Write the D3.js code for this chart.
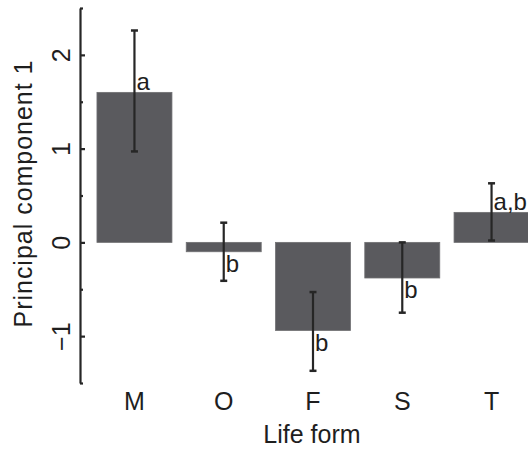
<!DOCTYPE html>
<html>
<head>
<meta charset="utf-8">
<script src="https://cdn.jsdelivr.net/npm/d3@7"></script>
<style>
  html, body { margin: 0; padding: 0; background: #fff; }
  svg { display: block; font-family: "Liberation Sans", Arial, Helvetica, sans-serif; }
</style>
</head>
<body>
<svg id="chart" width="528" height="450"></svg>
<script>
const categories = ["M", "O", "F", "S", "T"];
const means = [1.60, -0.10, -0.94, -0.38, 0.32];
const upper = [2.26, 0.21, -0.53, 0.00, 0.63];
const lower = [0.97, -0.41, -1.37, -0.75, 0.02];
const letters = ["a", "b", "b", "b", "a,b"];
const majorTicks = [-1, 0, 1, 2];
const minorTicks = [-1.5, -0.5, 0.5, 1.5, 2.5];
const xTitle = "Life form";
const yTitle = "Principal component 1";

const data = categories.map((c, i) => ({ c, m: means[i], hi: upper[i], lo: lower[i], lab: letters[i] }));

const svg = d3.select("#chart");
const axisX = 80;
const y = d3.scaleLinear().domain([-1.5, 2.5]).range([383, 8]);
const x = d3.scaleBand().domain(categories).range([axisX, 546]).paddingInner(0.16).paddingOuter(0.19);

const barColor = "#5a5a5e";
const ink = "#262626";

// bars
svg.append("g").selectAll("rect").data(data).join("rect")
  .attr("x", d => x(d.c))
  .attr("width", x.bandwidth())
  .attr("y", d => y(Math.max(0, d.m)))
  .attr("height", d => Math.abs(y(d.m) - y(0)))
  .attr("fill", barColor)
  .attr("stroke", "#707073")
  .attr("stroke-width", 0.8);

// error bars
const eb = svg.append("g").attr("stroke", ink);
eb.selectAll("line.v").data(data).join("line").attr("class", "v")
  .attr("x1", d => x(d.c) + x.bandwidth() / 2).attr("x2", d => x(d.c) + x.bandwidth() / 2)
  .attr("y1", d => y(d.hi)).attr("y2", d => y(d.lo))
  .attr("stroke-width", 2.2);
["hi", "lo"].forEach(k => {
  eb.selectAll("line.c" + k).data(data).join("line").attr("class", "c" + k)
    .attr("x1", d => x(d.c) + x.bandwidth() / 2 - 3.5).attr("x2", d => x(d.c) + x.bandwidth() / 2 + 3.5)
    .attr("y1", d => y(d[k])).attr("y2", d => y(d[k]))
    .attr("stroke-width", 2.5);
});

// significance letters
svg.append("g").selectAll("text").data(data).join("text")
  .attr("x", d => x(d.c) + x.bandwidth() / 2 + 2)
  .attr("y", d => d.m >= 0 ? y(d.m) - 2 : y(d.m) + 20)
  .attr("font-size", 24)
  .attr("fill", "#1e1e1e")
  .text(d => d.lab);

// y axis (major)
const fmt = v => (v < 0 ? "\u2212" : "") + Math.abs(v);
const gy = svg.append("g").attr("transform", `translate(${axisX},0)`)
  .call(d3.axisLeft(y).tickValues(majorTicks).tickSizeInner(-5).tickSizeOuter(0).tickFormat(fmt));
gy.select(".domain").attr("stroke", ink).attr("stroke-width", 2.2);
gy.selectAll(".tick line").attr("stroke", ink).attr("stroke-width", 2.2);
gy.selectAll(".tick text")
  .attr("transform", "rotate(-90)")
  .attr("x", 0).attr("y", -10).attr("dy", 0)
  .attr("text-anchor", "middle")
  .attr("font-size", 25)
  .attr("fill", "#1e1e1e");

// y axis (minor)
const gm = svg.append("g").attr("transform", `translate(${axisX},0)`)
  .call(d3.axisLeft(y).tickValues(minorTicks).tickSizeInner(-3).tickSizeOuter(0).tickFormat(""));
gm.select(".domain").remove();
gm.selectAll(".tick line").attr("stroke", ink).attr("stroke-width", 2.2);

// x category labels
svg.append("g").selectAll("text").data(categories).join("text")
  .attr("x", d => x(d) + x.bandwidth() / 2)
  .attr("y", 410)
  .attr("text-anchor", "middle")
  .attr("font-size", 25)
  .attr("fill", "#1e1e1e")
  .text(d => d);

// axis titles
svg.append("text")
  .attr("x", 312).attr("y", 443)
  .attr("text-anchor", "middle")
  .attr("font-size", 25)
  .attr("fill", "#1e1e1e")
  .text(xTitle);

svg.append("text")
  .attr("transform", `translate(32,194) rotate(-90)`)
  .attr("text-anchor", "middle")
  .attr("font-size", 25)
  .attr("textLength", 267)
  .attr("fill", "#1e1e1e")
  .text(yTitle);
</script>
</body>
</html>
